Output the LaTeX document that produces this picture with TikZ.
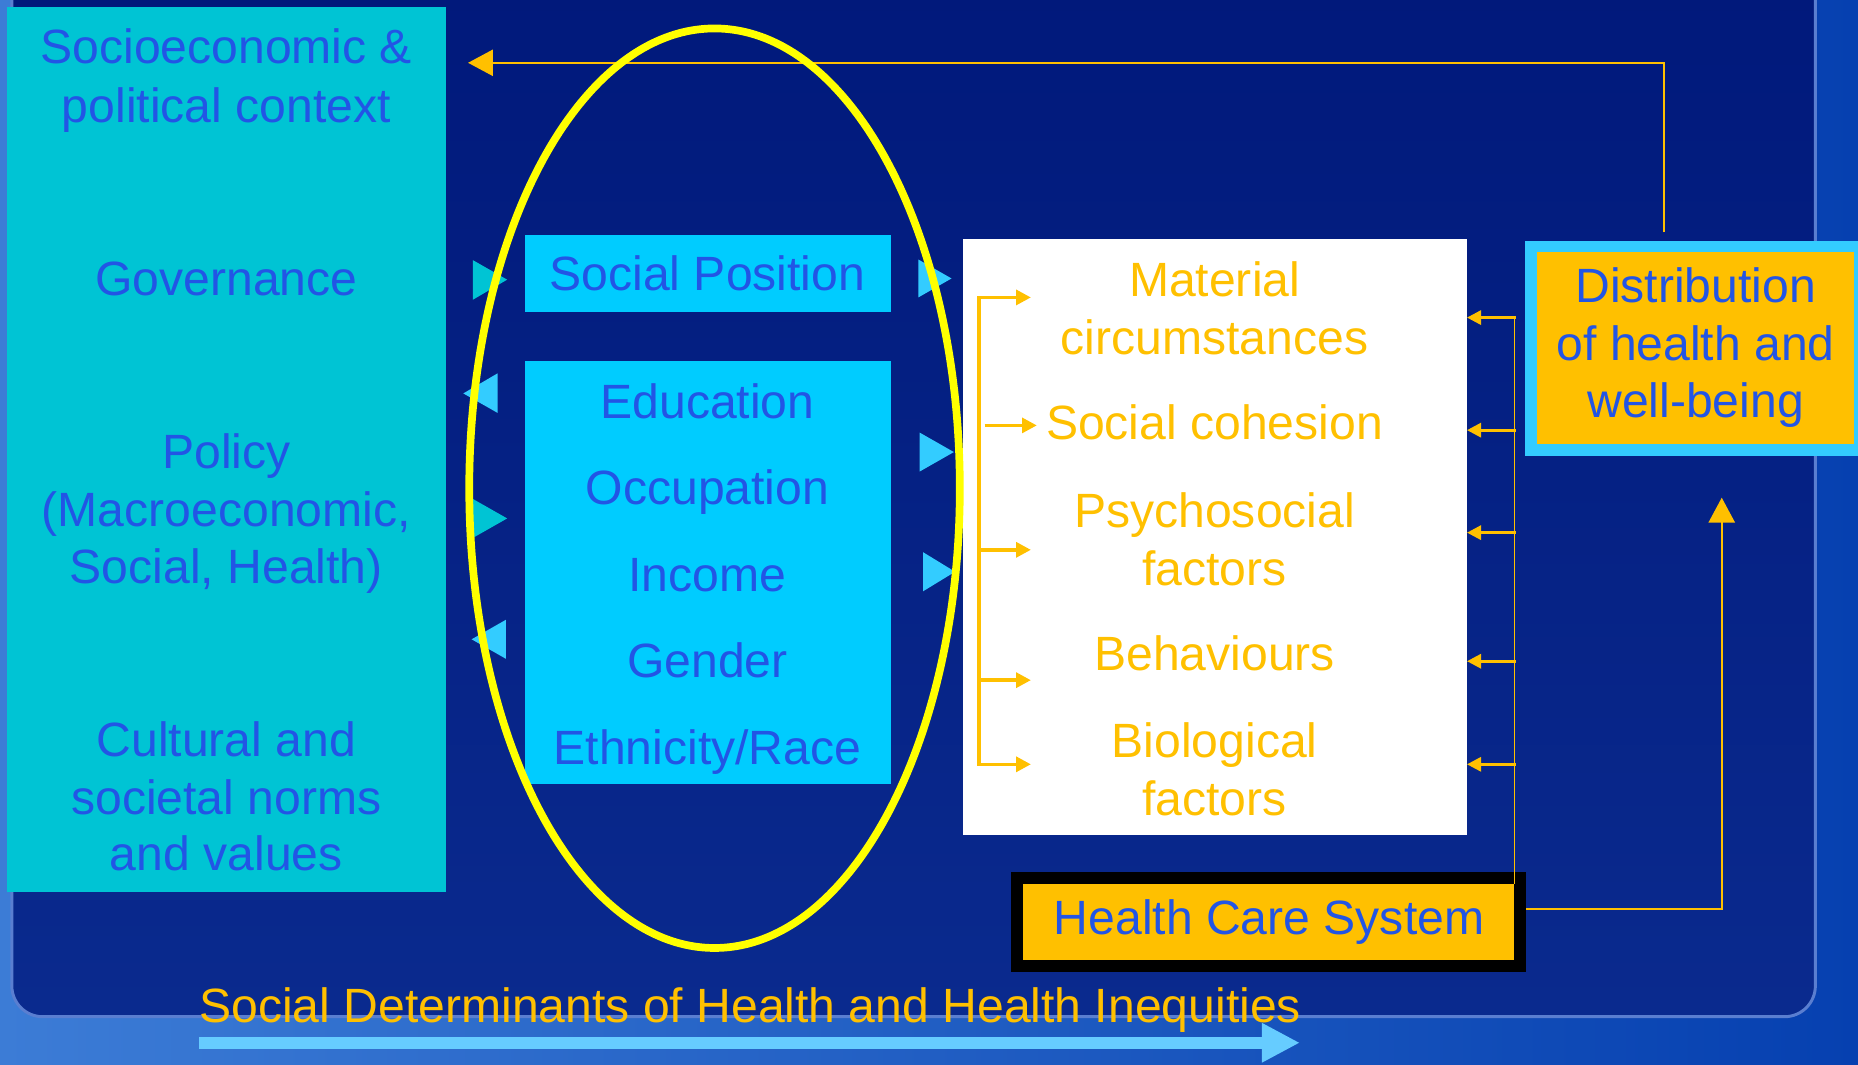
\documentclass[tikz,border=0pt]{standalone}
\usepackage{fontspec}
\setmainfont{Liberation Sans}
\usetikzlibrary{arrows.meta,calc}
\definecolor{leftc}{HTML}{00C4D4}
\definecolor{boxc}{HTML}{00CCFF}
\definecolor{tblue}{HTML}{2255E5}
\definecolor{orangec}{HTML}{FFC000}
\definecolor{tril}{HTML}{33CCFF}
\definecolor{arrowc}{HTML}{66CCFF}
\definecolor{yell}{HTML}{FFFF00}
\definecolor{panelborder}{HTML}{5A7ED0}
\begin{document}
\begin{tikzpicture}[x=1pt,y=-1pt,
  txt/.style={font=\fontsize{40.6}{48}\selectfont, inner sep=0pt, anchor=base},
  btxt/.style={txt, text=tblue},
  otxt/.style={txt, text=orangec},
  rect/.style={anchor=north west, inner sep=0pt, outer sep=0pt, draw=none},
  oline/.style={draw=orangec, line width=2pt},
  bigtip/.style={-{Triangle[length=21pt,width=22pt]}},
  smalltip/.style={-{Triangle[length=12pt,width=12pt]}},
  brtip/.style={-{Triangle[length=12.5pt,width=12.5pt]}}
]
\useasboundingbox (0,0) rectangle (1568,898);
% background
\shade[left color={rgb,255:red,60;green,124;blue,214}, right color={rgb,255:red,6;green,64;blue,176}] (0,0) rectangle (1568,898);
\shade[top color={rgb,255:red,0;green,24;blue,122}, bottom color={rgb,255:red,10;green,42;blue,142}, rounded corners=26pt] (10,-60) rectangle (1532,858);
\draw[panelborder, line width=2.5pt, rounded corners=26pt] (10,-60) rectangle (1532,858);

% boxes
\node[rect, fill=leftc, minimum width=370pt, minimum height=747pt] (ctx) at (6,6) {};
\node[rect, fill=boxc, minimum width=309pt, minimum height=65pt] (sp) at (443,198) {};
\node[rect, fill=boxc, minimum width=309pt, minimum height=357pt] (strat) at (443,305) {};
\node[rect, fill=white, minimum width=425pt, minimum height=503pt] (wb) at (813,202) {};
\node[rect, fill=tril, minimum width=290pt, minimum height=182pt] (distout) at (1287,203) {};
\node[rect, fill=orangec, minimum width=268pt, minimum height=162pt] (dist) at (1297,213) {};
\node[rect, fill=black, minimum width=435pt, minimum height=84pt] (hcout) at (853,736) {};
\node[rect, fill=orangec, minimum width=415pt, minimum height=64pt] (hc) at (863,746) {};

% small triangles
\fill[leftc] (399,219.5) -- (399,253) -- (428,236) -- cycle;
\fill[tril] (420,315) -- (420,348.5) -- (391,332) -- cycle;
\fill[leftc] (399,421) -- (399,454) -- (428,437.5) -- cycle;
\fill[tril] (427,523) -- (427,556) -- (398,539.5) -- cycle;
\fill[tril] (775,219) -- (775,251) -- (803,235) -- cycle;
\fill[tril] (776,365) -- (776,398) -- (805,381.5) -- cycle;
\fill[tril] (779,466) -- (779,499) -- (806,482.5) -- cycle;

% feedback line to context
\coordinate (fbstart) at (1404,196);
\coordinate (fbend) at ([xshift=19pt]ctx.north east |- 0,53);
\draw[oline, bigtip] (fbstart) |- (fbend);

% ellipse
\draw[yell, line width=6.5pt] (603,412) ellipse [x radius=207, y radius=388];

% health care to distribution
\coordinate (hcr) at (hcout.east |- 0,767);
\coordinate (distin) at (1453,420);
\draw[oline, bigtip] (hcr) -| (distin);

% health care feeding intermediary determinants
\coordinate (vtop) at (1278,268);
\coordinate (vbot) at (hc.north east);
\draw[draw=orangec, line width=1.2pt] (vtop) -- (vbot);
\foreach \yy/\nm in {268/r1,363/r2,449.5/r3,558/r4,645/r5}{
  \coordinate (\nm) at (wb.east |- 0,\yy);
  \draw[draw=orangec, line width=2.5pt, smalltip] (1279,\yy) -- (\nm);
}

% bracket
\coordinate (brtop) at (826,251);
\coordinate (brbot) at (826,645);
\draw[draw=orangec, line width=3.5pt] (brtop) -- (brbot);
\foreach \yy in {251,464,574,645}{
  \draw[draw=orangec, line width=3pt, brtip] (824.5,\yy) -- (870,\yy);
}
\draw[draw=orangec, line width=3pt, brtip] (831,359) -- (875,359);

% texts: context
\node[btxt] (t1) at (191,54) {Socioeconomic \&};
\node[btxt] (t2) at (191,103) {political context};
\node[btxt] (t3) at (191,249) {Governance};
\node[btxt] (t4) at (191,395) {Policy};
\node[btxt] (t5) at (191,444) {(Macroeconomic,};
\node[btxt] (t6) at (191,492) {Social, Health)};
\node[btxt] (t7) at (191,638) {Cultural and};
\node[btxt] (t8) at (191,687) {societal norms};
\node[btxt] (t9) at (191,735) {and values};

% social position
\node[btxt] (s0) at (597,245) {Social Position};
\node[btxt] (s1) at (597,353) {Education};
\node[btxt] (s2) at (597,426) {Occupation};
\node[btxt] (s3) at (597,499) {Income};
\node[btxt] (s4) at (597,572) {Gender};
\node[btxt] (s5) at (597,645) {Ethnicity/Race};

% intermediary
\node[otxt] (m1) at (1025,250) {Material};
\node[otxt] (m2) at (1025,299) {circumstances};
\node[otxt] (m3) at (1025,371) {Social cohesion};
\node[otxt] (m4) at (1025,445) {Psychosocial};
\node[otxt] (m5) at (1025,494) {factors};
\node[otxt] (m6) at (1025,566) {Behaviours};
\node[otxt] (m7) at (1025,639) {Biological};
\node[otxt] (m8) at (1025,688) {factors};

% distribution
\node[btxt] (d1) at (1431,255) {Distribution};
\node[btxt] (d2) at (1431,304) {of health and};
\node[btxt] (d3) at (1431,352) {well-being};

% health care
\node[btxt] (h1) at (1071,789) {Health Care System};

% bottom
\coordinate (bstart) at (168,880);
\coordinate (bend) at (1097,880);
\draw[draw=arrowc, line width=10pt, -{Triangle[length=32pt,width=31pt]}] (bstart) -- (bend);
\node[otxt, anchor=base west] (bt) at (168,863) {Social Determinants of Health and Health Inequities};
\end{tikzpicture}
\end{document}
